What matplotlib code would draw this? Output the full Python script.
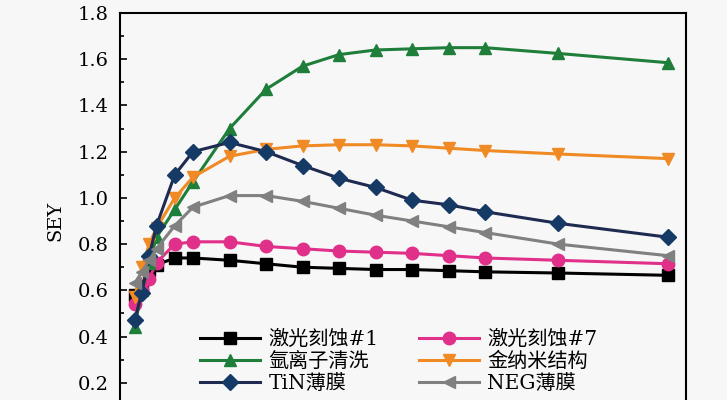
import matplotlib
matplotlib.use("Agg")
import matplotlib.pyplot as plt

energy = [40, 60, 80, 100, 150, 200, 300, 400, 500, 600, 700, 800, 900, 1000, 1200, 1500]
laser1 = [0.58, 0.62, 0.69, 0.71, 0.74, 0.74, 0.73, 0.715, 0.70, 0.695, 0.69, 0.69, 0.685, 0.68, 0.675, 0.665]
laser7 = [0.54, 0.60, 0.65, 0.72, 0.80, 0.81, 0.81, 0.79, 0.78, 0.77, 0.765, 0.76, 0.75, 0.74, 0.73, 0.715]
argon = [0.44, 0.60, 0.72, 0.83, 0.95, 1.07, 1.30, 1.47, 1.57, 1.62, 1.64, 1.645, 1.65, 1.65, 1.625, 1.585]
gold = [0.57, 0.70, 0.80, 0.87, 1.00, 1.09, 1.18, 1.21, 1.225, 1.23, 1.23, 1.225, 1.215, 1.205, 1.19, 1.17]
tin = [0.47, 0.59, 0.75, 0.88, 1.10, 1.20, 1.24, 1.20, 1.14, 1.085, 1.045, 0.99, 0.97, 0.94, 0.89, 0.83]
neg = [0.63, 0.68, 0.73, 0.78, 0.88, 0.96, 1.01, 1.01, 0.985, 0.955, 0.925, 0.90, 0.875, 0.85, 0.80, 0.75]
labels = ["激光刻蚀#1", "激光刻蚀#7", "氩离子清洗", "金纳米结构", "TiN薄膜", "NEG薄膜"]
yticks = [0.2, 0.4, 0.6, 0.8, 1.0, 1.2, 1.4, 1.6, 1.8]

plt.rcParams['font.family'] = ['DejaVu Serif', 'Noto Sans CJK SC']
bg = '#f7f7f7'
fig = plt.figure(figsize=(7.27, 4.0), dpi=100, facecolor=bg)
ax = fig.add_axes([120/727, -29/400, 566/727, 416/400])
ax.set_facecolor(bg)

series = [
    (laser1, '#000000', 's', 8),
    (laser7, '#e0308a', 'o', 9),
    (argon, '#1e7e3a', '^', 9),
    (gold, '#f08a24', 'v', 9),
    (tin, '#1f2a50', 'D', 8),
    (neg, '#808080', '<', 9),
]
handles = []
for (vals, c, m, ms), lab in zip(series, labels):
    mfc = '#163a66' if m == 'D' else c
    h, = ax.plot(energy, vals, color=c, marker=m, ms=ms, mfc=mfc, mec=mfc, lw=2.2, label=lab)
    handles.append(h)

ax.set_xlim(0, 1550)
ax.set_ylim(0, 1.8)
ax.set_yticks(yticks)
ax.set_yticks([0.1 + 0.2 * i for i in range(9)], minor=True)
ax.tick_params(axis='y', direction='in', labelsize=14, length=5, width=1.2, pad=8)
ax.tick_params(axis='y', which='minor', direction='in', length=3, width=1.2)
ax.set_yticklabels([f"{t:.1f}" for t in yticks])
ax.set_xticks([])
for s in ax.spines.values():
    s.set_linewidth(1.5)
ax.set_ylabel("SEY", fontsize=14, labelpad=10)

order = [0, 2, 4, 1, 3, 5]
leg = ax.legend([handles[i] for i in order], [labels[i] for i in order], ncol=2,
                loc='upper left', bbox_to_anchor=(192/727, 1 - 322/400),
                bbox_transform=fig.transFigure, frameon=False, fontsize=14.5,
                handlelength=3.0, columnspacing=2.0, labelspacing=0.15,
                handletextpad=0.4, borderaxespad=0)

fig.savefig("out.png", dpi=100, facecolor=bg)
